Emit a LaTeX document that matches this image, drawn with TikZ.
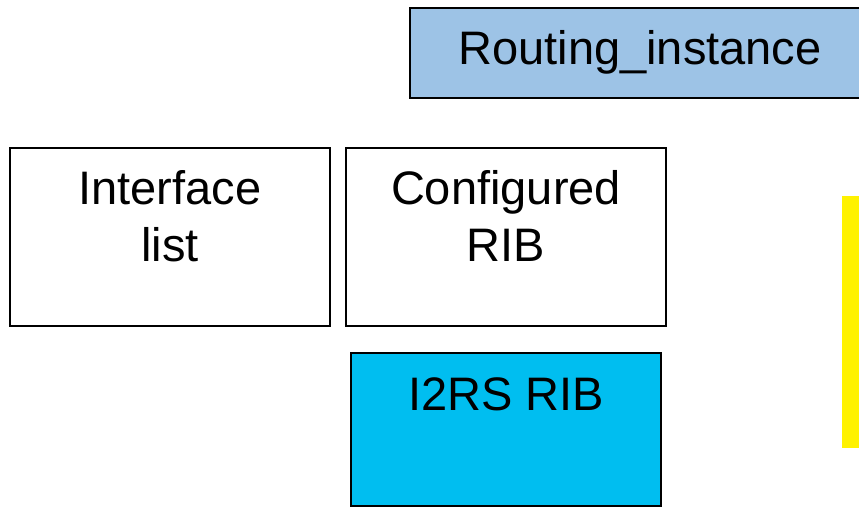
\documentclass[tikz,border=0pt]{standalone}
\usepackage{fontspec}
\setmainfont{Liberation Sans}
\usepackage{tikz}
\usetikzlibrary{positioning}

\definecolor{routeblue}{RGB}{157,195,230}
\definecolor{ribblue}{RGB}{0,190,240}

\begin{document}
\begin{tikzpicture}[x=1pt, y=1pt, node distance={14.7pt},
        box/.style = {draw=black, line width=1.3pt, inner sep=0pt},
        lbl/.style = {font=\fontsize{47}{57}\selectfont, align=center, anchor=base, inner sep=0pt}]

        \useasboundingbox (0,0) rectangle (859,507);
        \clip (0,0) rectangle (859,507);

        \node[box, fill=routeblue, minimum width=460pt, minimum height=90pt] (ri) at (640,454) {};
        \node[box, minimum width=320pt, minimum height=178pt] (il) at (170,270) {};
        \node[box, minimum width=320pt, minimum height=178pt] (cr) [right=of il] {};
        \node[box, fill=ribblue, minimum width=310pt, minimum height=153pt] (ir) at (506,77.5) {};
        \node[fill=yellow, minimum width=28pt, minimum height=252pt, inner sep=0pt] (yb) at (856,185) {};

        \node[lbl] (rit) at ([yshift=-12pt]ri.center) {Routing\_instance};
        \node[lbl] (ilt) at ([yshift=-114pt]il.north) {Interface\\list};
        \node[lbl] (crt) at ([yshift=-114pt]cr.north) {Configured\\RIB};
        \node[lbl] (irt) at ([yshift=-58pt]ir.north) {I2RS RIB};

    \end{tikzpicture}
\end{document}
